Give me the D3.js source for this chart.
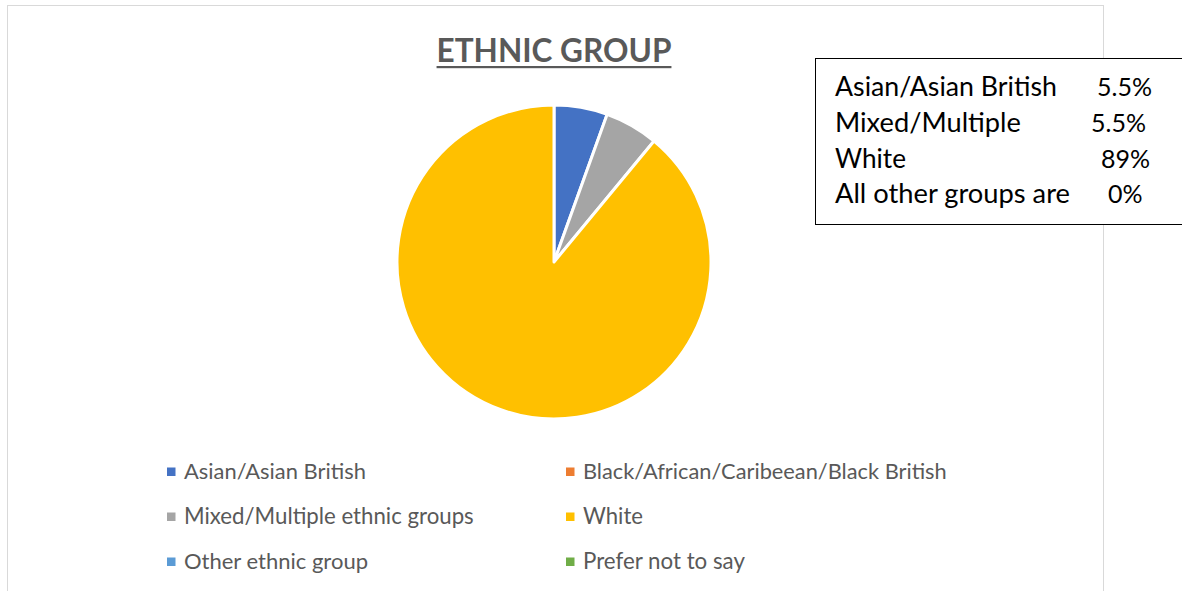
<!DOCTYPE html>
<html>
<head>
<meta charset="utf-8">
<script src="https://cdn.jsdelivr.net/npm/d3@7"></script>
<style>
  html, body { margin: 0; padding: 0; background: #fff; }
  svg { display: block; }
</style>
</head>
<body>
<svg id="chart" width="1182" height="591"></svg>
<script>
// ---- data ----
const categories = [
  "Asian/Asian British",
  "Black/African/Caribeean/Black British",
  "Mixed/Multiple ethnic groups",
  "White",
  "Other ethnic group",
  "Prefer not to say"
];
const values = [5.5, 0, 5.5, 89, 0, 0];
const colors = ["#4472C4", "#ED7D31", "#A5A5A5", "#FFC000", "#5B9BD5", "#70AD47"];
const title = "ETHNIC GROUP";
const noteLabels = ["Asian/Asian British", "Mixed/Multiple", "White", "All other groups are"];
const noteValues = ["5.5%", "5.5%", "89%", "0%"];

// ---- layout ----
const W = 1182, H = 591;
const font = "Lato, 'Open Sans', sans-serif";
const svg = d3.select("#chart");

// chart area border
svg.append("rect")
  .attr("x", 7.5).attr("y", 5.5)
  .attr("width", 1096).attr("height", 600)
  .attr("fill", "#fff").attr("stroke", "#d9d9d9").attr("stroke-width", 1);

// fit helper: scale font size so text spans the target width
function fit(sel, target) {
  sel.each(function () {
    const w = this.getComputedTextLength();
    const fs = parseFloat(d3.select(this).attr("font-size"));
    if (w > 0) d3.select(this).attr("font-size", fs * target / w);
  });
}

// title
const t = svg.append("text")
  .attr("x", 554).attr("y", 62)
  .attr("text-anchor", "middle")
  .attr("font-family", font).attr("font-weight", "bold")
  .attr("font-size", 30).attr("fill", "#595959")
  .text(title);
fit(t, 235);
const tb = t.node().getBBox();
svg.append("rect")
  .attr("x", tb.x).attr("y", 66)
  .attr("width", tb.width).attr("height", 2.2)
  .attr("fill", "#595959");

// pie
const cx = 554, cy = 262, r = 157;
const pie = d3.pie().sort(null).value(d => d.v);
const arc = d3.arc().innerRadius(0).outerRadius(r);
const data = categories.map((c, i) => ({ c, v: values[i] }));
const color = d3.scaleOrdinal().domain(categories).range(colors);

svg.append("g").attr("transform", `translate(${cx},${cy})`)
  .selectAll("path")
  .data(pie(data).filter(d => d.data.v > 0))
  .join("path")
  .attr("d", arc)
  .attr("fill", d => color(d.data.c))
  .attr("stroke", "#fff").attr("stroke-width", 3)
  .attr("stroke-linejoin", "round");

// legend
const legX = [167, 566], legY = [472, 517, 562];
const legWidths = [182, 364, 290, 60, 184, 162];
const leg = svg.append("g");
categories.forEach((c, i) => {
  const col = i % 2, row = Math.floor(i / 2);
  const x = legX[col], y = legY[row];
  leg.append("rect")
    .attr("x", x).attr("y", y - 4.5)
    .attr("width", 8.5).attr("height", 8.5)
    .attr("fill", color(c));
  const tx = leg.append("text")
    .attr("x", x + 17).attr("y", y + 7)
    .attr("font-family", font).attr("font-size", 20)
    .attr("fill", "#595959")
    .text(c);
  fit(tx, legWidths[i]);
});

// text box
svg.append("rect")
  .attr("x", 815.5).attr("y", 58.5)
  .attr("width", 380).attr("height", 166)
  .attr("fill", "#fff").attr("stroke", "#000").attr("stroke-width", 1);
const noteY = [96, 132, 168, 203];
const noteValX = [1097, 1091, 1101, 1108];
const noteLabW = [222, 186, 71, 235];
noteLabels.forEach((l, i) => {
  const a = svg.append("text")
    .attr("x", 835).attr("y", noteY[i])
    .attr("font-family", font).attr("font-size", 24)
    .attr("fill", "#000").text(l);
  fit(a, noteLabW[i]);
  svg.append("text")
    .attr("x", noteValX[i]).attr("y", noteY[i])
    .attr("font-family", font).attr("font-size", 25)
    .attr("fill", "#000").text(noteValues[i]);
});
</script>
</body>
</html>
